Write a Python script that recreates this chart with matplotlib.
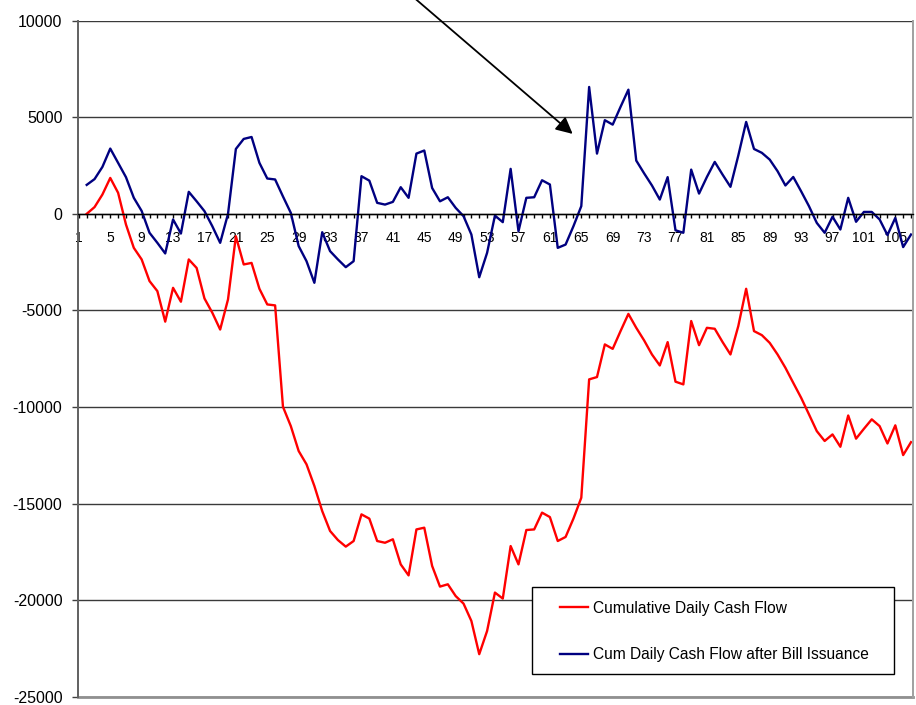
import numpy as np
import matplotlib
matplotlib.use("Agg")
import matplotlib.pyplot as plt
from matplotlib.patches import Rectangle

plt.rcParams["font.family"] = ["Liberation Sans", "DejaVu Sans"]
plt.rcParams["axes.unicode_minus"] = False

# day index of each observation (first category is blank)
days = np.arange(2, 108)

cum_cash_flow = [
    0, 350, 1000, 1860, 1090, -550, -1760, -2360, -3480, -4000,
    -5580, -3830, -4550, -2360, -2800, -4380, -5120, -5990, -4430, -1160,
    -2620, -2540, -3880, -4690, -4740, -9990, -10990, -12280, -12970, -14090,
    -15390, -16420, -16890, -17230, -16940, -15560, -15780, -16940, -17030, -16850,
    -18150, -18720, -16340, -16250, -18230, -19300, -19180, -19790, -20180, -21080,
    -22800, -21600, -19610, -19920, -17200, -18150, -16370, -16340, -15470, -15700,
    -16940, -16730, -15780, -14700, -8570, -8450, -6760, -6990, -6070, -5180,
    -5900, -6550, -7280, -7850, -6640, -8690, -8830, -5550, -6800, -5900,
    -5950, -6640, -7280, -5810, -3880, -6070, -6280, -6680, -7280, -7970,
    -8750, -9520, -10380, -11250, -11760, -11420, -12060, -10440, -11640, -11130,
    -10640, -10990, -11890, -10950, -12490, -11820,
]

cum_after_bills = [
    1500, 1800, 2430, 3380, 2640, 1900, 830, 150, -980, -1500,
    -2050, -290, -1020, 1140, 650, 140, -640, -1500, 0, 3360,
    3880, 3980, 2640, 1830, 1780, 900, 50, -1670, -2450, -3570,
    -950, -1930, -2360, -2760, -2450, 1950, 1720, 570, 480, 620,
    1380, 830, 3120, 3280, 1340, 650, 860, 310, -120, -1070,
    -3280, -2020, -90, -430, 2330, -900, 830, 860, 1740, 1520,
    -1760, -1590, -640, 400, 6570, 3120, 4850, 4620, 5540, 6430,
    2760, 2100, 1470, 740, 1900, -850, -980, 2290, 1050, 1910,
    2690, 2030, 1400, 3020, 4760, 3360, 3160, 2810, 2210, 1470,
    1910, 1170, 400, -470, -980, -150, -810, 830, -410, 100,
    100, -290, -1100, -210, -1720, -1070,
]

y_ticks = [10000, 5000, 0, -5000, -10000, -15000, -20000, -25000]
x_ticks = np.arange(1, 108)
x_labels = [str(d) if (d - 1) % 4 == 0 else "" for d in x_ticks]

fig = plt.figure(figsize=(9.16, 7.05), dpi=100)
ax = fig.add_axes([0.0848, 0.0118, 0.9119, 0.9588])

ax.plot(days, cum_cash_flow, color="#ff0000", lw=1.7,
        label="Cumulative Daily Cash Flow")
ax.plot(days, cum_after_bills, color="#000080", lw=1.7,
        label="Cum Daily Cash Flow after Bill Issuance")

ax.set_xlim(0.85, 107.25)
ax.set_ylim(-25000, 10000)
ax.set_yticks(y_ticks)
ax.set_yticklabels([str(v) for v in y_ticks], fontsize=11.5)
ax.set_xticks(x_ticks)
ax.set_xticklabels(x_labels, fontsize=11.5)

ax.yaxis.grid(True, color="#3a3a3a", lw=1.0)
ax.axhline(-25000, color="#909090", lw=2.0, clip_on=False)
ax.spines["bottom"].set_position(("data", 0))
ax.spines["bottom"].set_color("black")
ax.spines["bottom"].set_linewidth(1.0)
ax.spines["top"].set_visible(False)
ax.spines["left"].set_color("#606060")
ax.spines["left"].set_linewidth(1.4)
ax.spines["right"].set_color("#a0a0a0")
ax.spines["right"].set_linewidth(1.4)
ax.tick_params(axis="x", direction="out", length=3, width=1, pad=9)
ax.tick_params(axis="y", direction="out", length=4, width=1, pad=7,
               color="#404040")

# arrow coming in from above the chart
ax.annotate("", xy=(63.9, 4140), xytext=(41.9, 11820),
            arrowprops=dict(arrowstyle="-|>", color="black", lw=1.3,
                            mutation_scale=25, shrinkA=0, shrinkB=0),
            annotation_clip=False)

# legend box
box = Rectangle((0.5439, 0.0336), 0.4334, 0.1287, transform=ax.transAxes,
                facecolor="white", edgecolor="black", lw=1.0, zorder=4)
ax.add_patch(box)
leg = ax.legend(frameon=False, loc="center left",
                bbox_to_anchor=(0.5774, 0.0965), borderpad=0, borderaxespad=0,
                labelspacing=2.05, handlelength=1.8, handletextpad=0.33,
                fontsize=11.2)
leg.set_zorder(6)

fig.savefig("out.png", dpi=100)
